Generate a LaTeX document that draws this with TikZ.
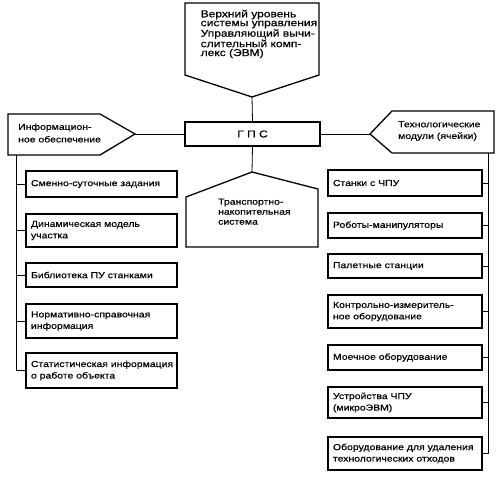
\documentclass[tikz,border=0pt]{standalone}
\usepackage{fontspec}
\setmainfont{Liberation Sans}[FakeStretch=1.2,FakeBold=0.6]
\begin{document}
\begin{tikzpicture}[x=1pt,y=-1pt,
  shapeline/.style={draw, line width=1.3pt, line join=miter},
  conn/.style={draw, line width=0.8pt},
  txt/.style={inner sep=0pt, align=left, anchor=west},
  lbox/.style={draw, line width=1.3pt, minimum width=151pt, inner xsep=5pt, inner ysep=0pt,
    text width=141pt, align=left, font=\fontsize{8.7}{11.5}\selectfont},
  rbox/.style={lbox, minimum width=154pt, text width=144pt},
]
\useasboundingbox (0,0) rectangle (500,476);
% top pentagon
\draw[shapeline] (185,3) -- (319,3) -- (319,75) -- (252,97) -- (185,75) -- cycle;
\coordinate (ttip) at (252,97);
\node[txt, font=\fontsize{10}{8.9}\selectfont] (top) at (200.5,34)
  {Верхний уровень\\системы управления\\Управляющий вычи-\\слительный комп-\\лекс (ЭВМ)};
% GPS
\node[draw, line width=1.3pt, minimum width=135pt, minimum height=24pt, inner sep=0pt,
  font=\fontsize{10}{10}\selectfont] (gps) at (252.5,134) {Г П С};
% left pentagon
\draw[shapeline] (8,114) -- (100,114) -- (135,134) -- (100,155) -- (8,155) -- cycle;
\coordinate (ltip) at (135,134);
\node[txt, font=\fontsize{8.7}{12.6}\selectfont] (info) at (18,133) {Информацион-\\ное обеспечение};
% right pentagon
\draw[shapeline] (370,134) -- (392,111) -- (494,111) -- (494,153) -- (392,153) -- cycle;
\coordinate (rtip) at (370,134);
\node[txt, font=\fontsize{8.7}{11.7}\selectfont] (tech) at (398,131) {Технологические\\модули (ячейки)};
% transport pentagon
\draw[shapeline] (252,172) -- (318,189) -- (318,247) -- (186,247) -- (186,197) -- cycle;
\coordinate (ttop) at (252,172);
\node[txt, font=\fontsize{8.7}{10}\selectfont] (trans) at (218,211.7) {Транспортно-\\накопительная\\система};
% connectors around GPS
\draw[conn] (ttip) -- (gps.north);
\draw[conn] (ltip) -- (gps.west);
\draw[conn] (gps.east) -- (rtip);
\draw[conn] (gps.south) -- (ttop);
% left boxes
\node[lbox, minimum height=26pt] (l1) at (101.5,184) {Сменно-суточные задания};
\node[lbox, minimum height=33pt] (l2) at (101.5,230.5) {Динамическая модель\\участка};
\node[lbox, minimum height=24pt] (l3) at (101.5,275) {Библиотека ПУ станками};
\node[lbox, minimum height=34pt] (l4) at (101.5,321) {Нормативно-справочная\\информация};
\node[lbox, minimum height=35pt] (l5) at (101.5,370.5) {\mbox{Статистическая информация}\\о работе объекта};
\coordinate (ltrunk) at (16,155);
\draw[conn] (ltrunk) |- (l5.west);
\foreach \n in {l1,l2,l3,l4} \draw[conn] (\n.west) -- (\n.west -| ltrunk);
% right boxes
\node[rbox, minimum height=26pt] (r1) at (405,183) {Станки с ЧПУ};
\node[rbox, minimum height=25pt] (r2) at (405,225.5) {Роботы-манипуляторы};
\node[rbox, minimum height=24pt] (r3) at (405,266) {Палетные станции};
\node[rbox, minimum height=33pt] (r4) at (405,311.5) {Контрольно-измеритель-\\ное оборудование};
\node[rbox, minimum height=25pt] (r5) at (405,357.5) {Моечное оборудование};
\node[rbox, minimum height=31pt] (r6) at (405,402.5) {Устройства ЧПУ\\(микроЭВМ)};
\node[rbox, minimum height=33pt] (r7) at (405,453.5) {\mbox{Оборудование для удаления}\\технологических отходов};
\coordinate (rtrunk) at (488,153);
\draw[conn] (rtrunk) |- (r7.east);
\foreach \n in {r1,r2,r3,r4,r5,r6} \draw[conn] (\n.east) -- (\n.east -| rtrunk);
\end{tikzpicture}
\end{document}
